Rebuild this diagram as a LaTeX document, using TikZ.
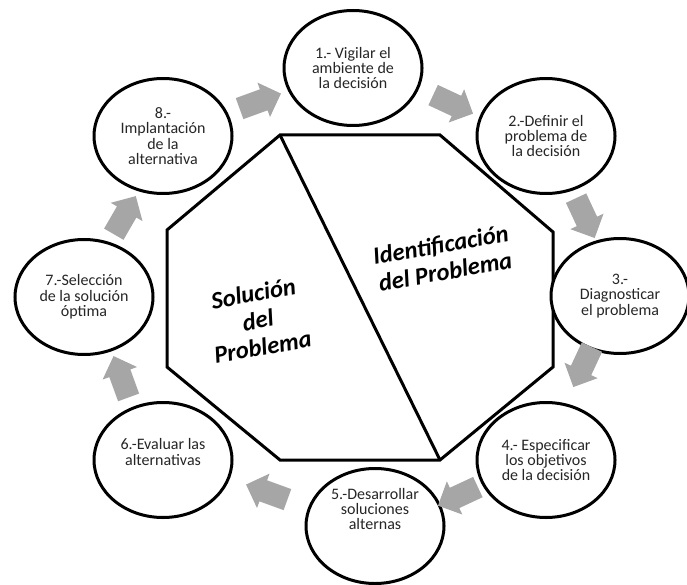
\documentclass[tikz,border=0pt]{standalone}
\usepackage{fontspec}
\setmainfont{Carlito}
\usetikzlibrary{shapes.geometric, shapes.arrows, positioning}
\definecolor{grisflecha}{HTML}{A6A6A6}

\begin{document}
\begin{tikzpicture}[
    x=1pt, y=-1pt,
    paso/.style={ellipse, draw, line width=3pt, fill=white, minimum width=138pt, minimum height=115pt, align=center, font=\fontsize{16}{15.3}\selectfont, text=black!85, inner sep=0pt},
    flecha/.style={single arrow, fill=grisflecha, draw=none, minimum height=44pt, minimum width=36pt, inner sep=11pt, single arrow head indent=0pt},
    borde/.style={draw, line width=3pt, line join=miter},
    mitad/.style={align=center, font=\fontsize{24.5}{27}\selectfont\bfseries\itshape, text=black, rotate=10}
]
\useasboundingbox (0,0) rectangle (687,585);

% octagono central
\coordinate (o1) at (280,135);
\coordinate (o2) at (440,135);
\coordinate (o3) at (553,232);
\coordinate (o4) at (553,367);
\coordinate (o5) at (440,460);
\coordinate (o6) at (280,460);
\coordinate (o7) at (167,367);
\coordinate (o8) at (167,230);
\draw [borde] (o1) -- (o2) -- (o3) -- (o4) -- (o5) -- (o6) -- (o7) -- (o8) -- cycle;
\draw [borde] (o1) -- (o5);

\node [mitad] (identificacion) at (443,258) {Identificación\\del Problema};
\node [mitad] (solucion) at (258,320) {Solución\\del\\Problema};

% pasos
\node [paso] (p1) at (353,68) {1.- Vigilar el\\ambiente de\\la decisión};
\node [paso] (p2) at (546,136) {2.-Definir el\\problema de\\la decisión};
\node [paso] (p3) at (620,296) {3.-\\Diagnosticar\\el problema};
\node [paso] (p4) at (546,460) {4.- Especificar\\los objetivos\\de la decisión};
\node [paso, label={[align=center, font=\fontsize{16}{15.3}\selectfont, text=black!85, yshift=17pt]center:5.-Desarrollar\\soluciones\\alternas}] (p5) at (375,526) {};
\node [paso, label={[align=center, font=\fontsize{16}{15.3}\selectfont, text=black!85, yshift=8pt]center:6.-Evaluar las\\alternativas}] (p6) at (163,460) {};
\node [paso] (p7) at (84,297) {7.-Selección\\de la solución\\óptima};
\node [paso] (p8) at (163,136) {8.-\\Implantación\\de la\\alternativa};

% flechas entre pasos
\node [flecha, rotate=20] (f81) at (255,103) {};
\node [flecha, rotate=-25] (f12) at (448,102) {};
\node [flecha, rotate=-65] (f23) at (583,213) {};
\node [flecha, rotate=-115] (f34) at (585,362) {};
\node [flecha, rotate=-155] (f45) at (463,494) {};
\node [flecha, rotate=160] (f56) at (272,494) {};
\node [flecha, rotate=110] (f67) at (123,382) {};
\node [flecha, rotate=60] (f78) at (122,220) {};
\end{tikzpicture}
\end{document}
